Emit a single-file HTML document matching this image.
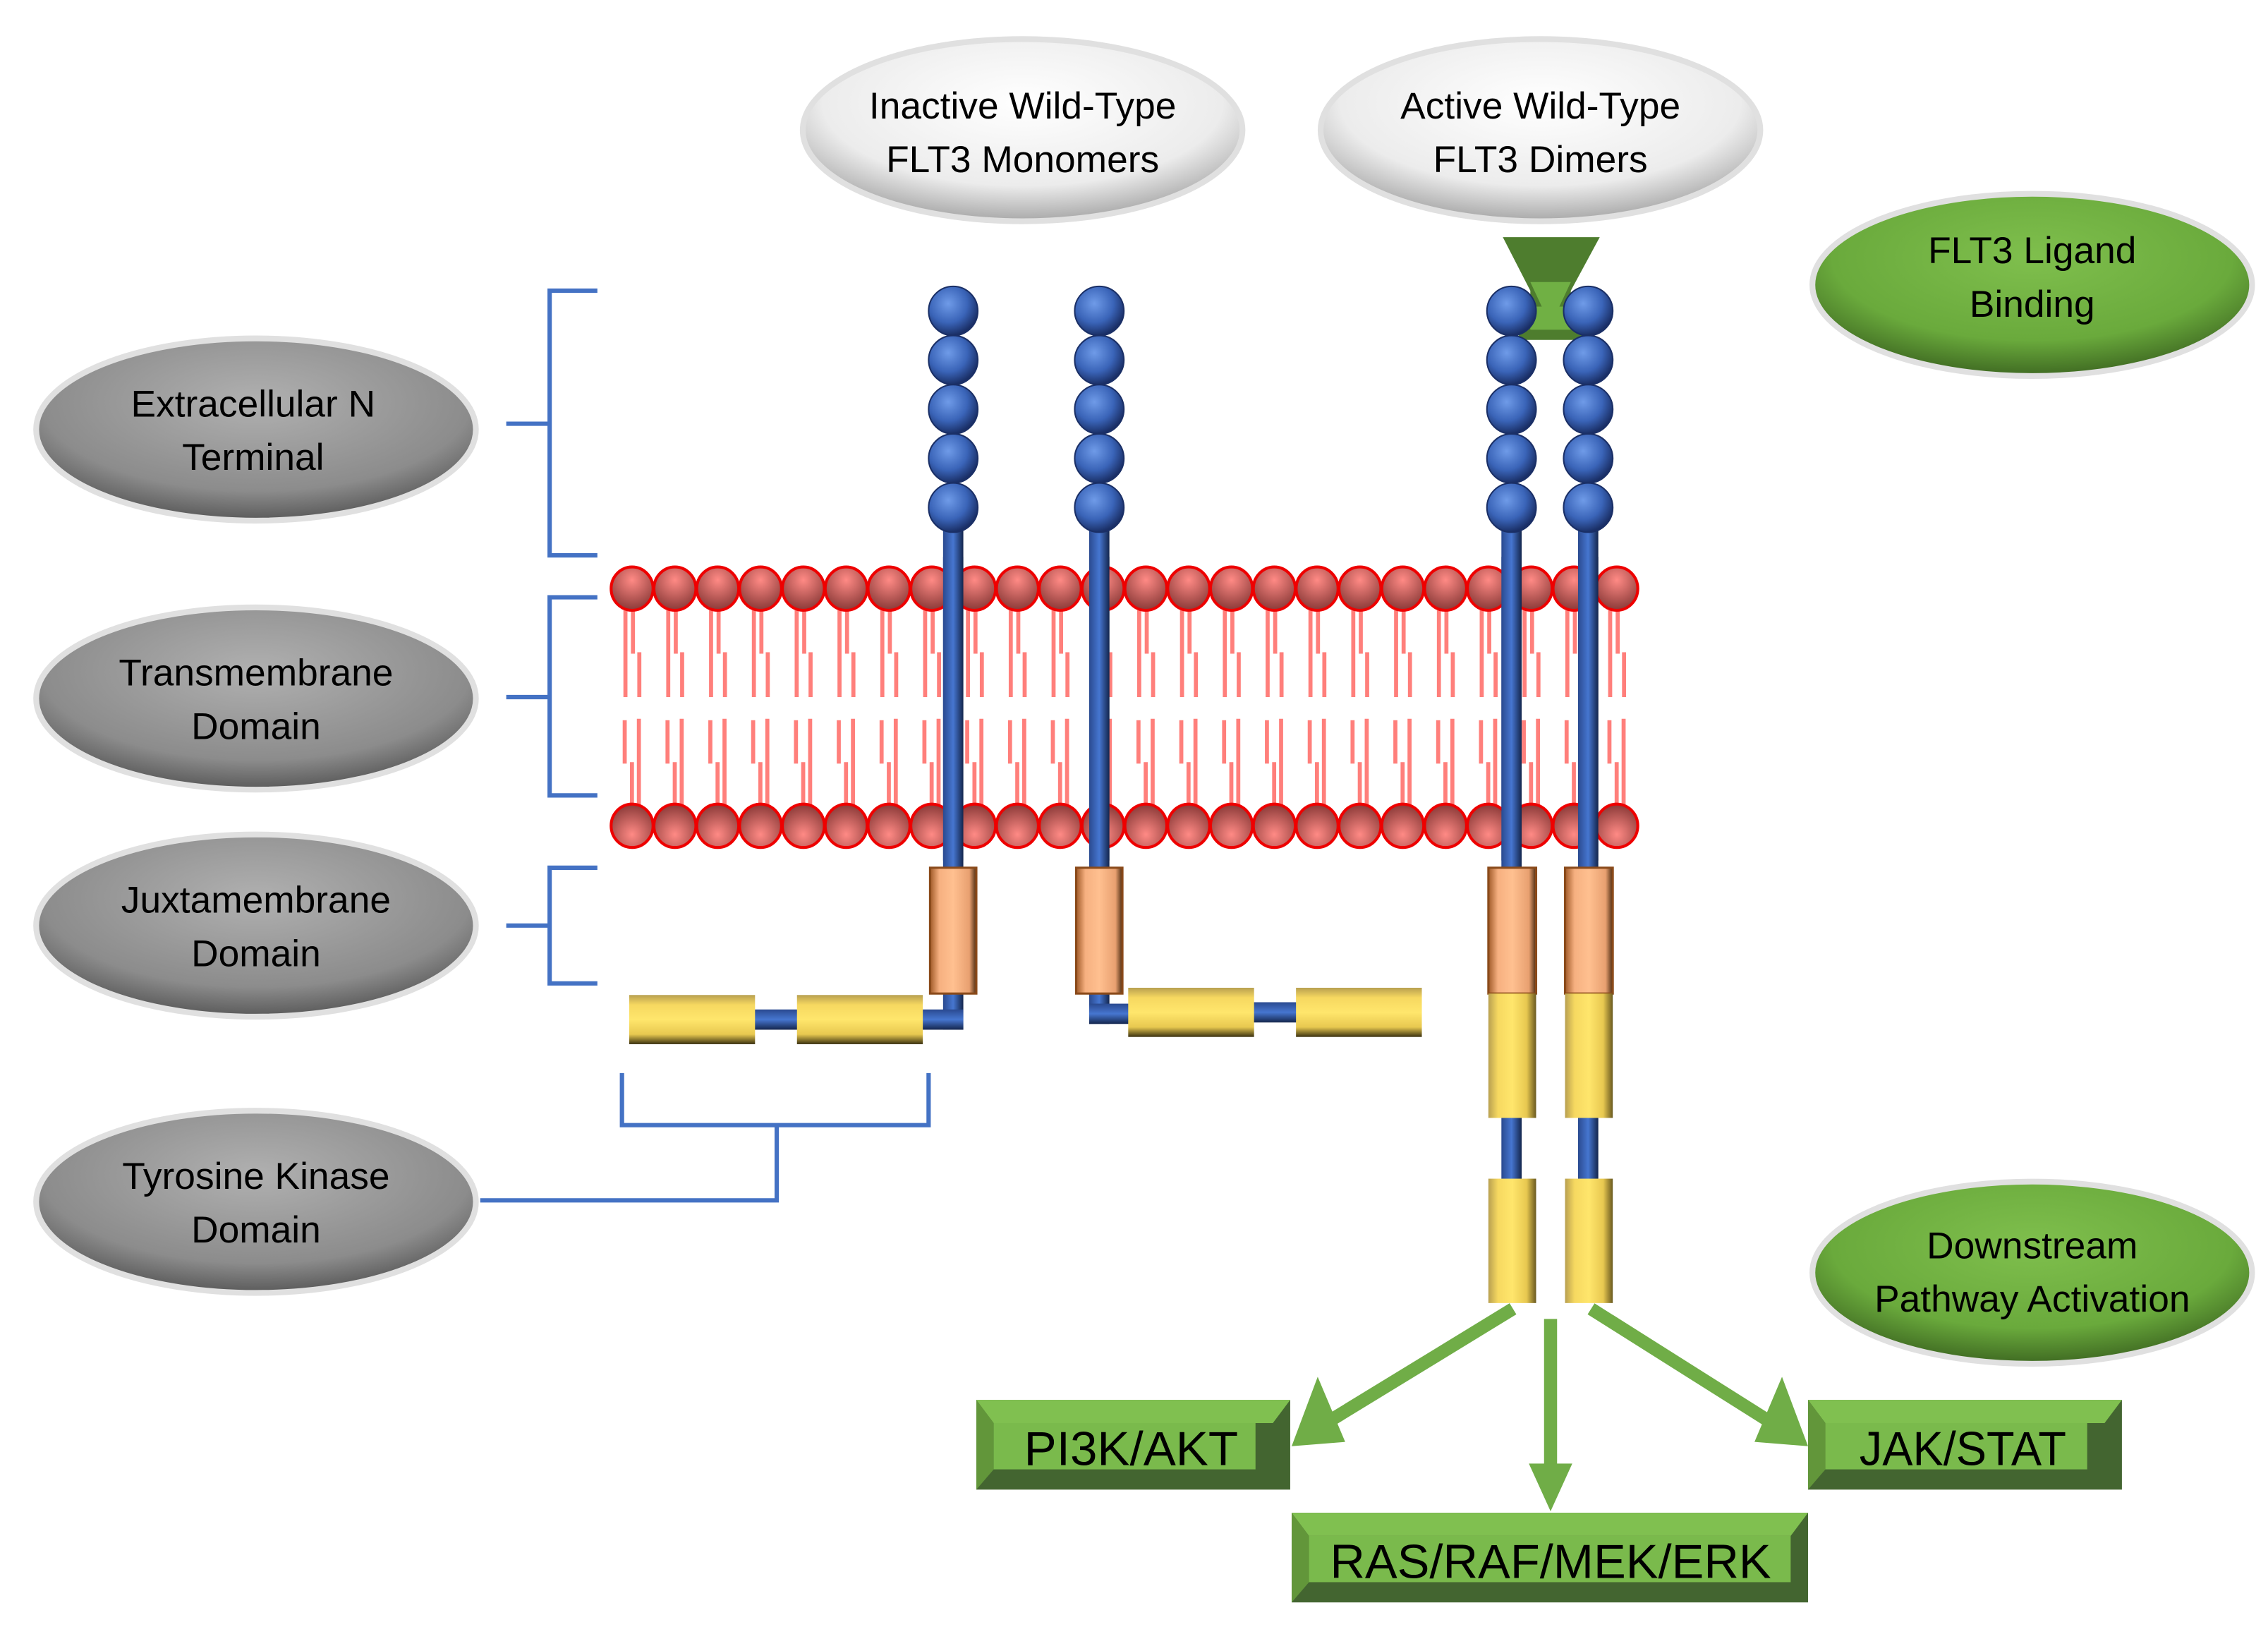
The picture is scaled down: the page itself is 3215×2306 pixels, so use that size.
<!DOCTYPE html>
<html><head><meta charset="utf-8"><style>
html,body{margin:0;padding:0;background:#fff}
svg{display:block}
text{font-family:"Liberation Sans","DejaVu Sans",sans-serif}
</style></head><body>
<svg width="3215" height="2306" viewBox="0 0 1568 1125" preserveAspectRatio="none" xmlns="http://www.w3.org/2000/svg">
<defs>
<radialGradient id="ball" cx="40%" cy="35%" r="65%"><stop offset="0" stop-color="#6f9be8"/><stop offset="0.6" stop-color="#3a64b8"/><stop offset="1" stop-color="#1a2f66"/></radialGradient>
<radialGradient id="head" cx="50%" cy="30%" r="70%"><stop offset="0" stop-color="#ff8a85"/><stop offset="1" stop-color="#8a3a38"/></radialGradient>
<radialGradient id="headb" cx="50%" cy="70%" r="70%"><stop offset="0" stop-color="#ff8a85"/><stop offset="1" stop-color="#8a3a38"/></radialGradient>
<radialGradient id="grey" cx="50%" cy="35%" r="65%"><stop offset="0" stop-color="#b0b0b0"/><stop offset="0.75" stop-color="#8c8c8c"/><stop offset="1" stop-color="#5a5a5a"/></radialGradient>
<radialGradient id="white" cx="50%" cy="35%" r="65%"><stop offset="0" stop-color="#ffffff"/><stop offset="0.7" stop-color="#ececec"/><stop offset="1" stop-color="#a8a8a8"/></radialGradient>
<radialGradient id="green" cx="50%" cy="35%" r="65%"><stop offset="0" stop-color="#7fbf4d"/><stop offset="0.7" stop-color="#6aaa3c"/><stop offset="1" stop-color="#3f6a22"/></radialGradient>
<linearGradient id="stem" x1="0" x2="1"><stop offset="0" stop-color="#2a4a90"/><stop offset="0.5" stop-color="#4676d0"/><stop offset="1" stop-color="#14264d"/></linearGradient>
<linearGradient id="stemh" x1="0" y1="0" x2="0" y2="1"><stop offset="0" stop-color="#2a4a90"/><stop offset="0.5" stop-color="#4676d0"/><stop offset="1" stop-color="#14264d"/></linearGradient>
<linearGradient id="yel" x1="0" y1="0" x2="0" y2="1"><stop offset="0" stop-color="#b8a050"/><stop offset="0.2" stop-color="#f6d860"/><stop offset="0.5" stop-color="#ffe66c"/><stop offset="0.8" stop-color="#e8c850"/><stop offset="1" stop-color="#3a3010"/></linearGradient>
<linearGradient id="yelv" x1="0" x2="1"><stop offset="0" stop-color="#b8a050"/><stop offset="0.2" stop-color="#f6d860"/><stop offset="0.5" stop-color="#ffe66c"/><stop offset="0.8" stop-color="#e8c850"/><stop offset="1" stop-color="#6a5a20"/></linearGradient>
<linearGradient id="ora" x1="0" x2="1"><stop offset="0" stop-color="#a05a28"/><stop offset="0.2" stop-color="#f6b080"/><stop offset="0.5" stop-color="#ffc090"/><stop offset="0.85" stop-color="#e8a070"/><stop offset="1" stop-color="#4a2a10"/></linearGradient>
</defs>

<g stroke="#e0e0e0" stroke-width="4">
<ellipse cx="177" cy="297" rx="152" ry="63" fill="url(#grey)"/>
<ellipse cx="177" cy="483" rx="152" ry="63" fill="url(#grey)"/>
<ellipse cx="177" cy="640" rx="152" ry="63" fill="url(#grey)"/>
<ellipse cx="177" cy="831" rx="152" ry="63" fill="url(#grey)"/>
<ellipse cx="707" cy="90" rx="152" ry="63" fill="url(#white)"/>
<ellipse cx="1065" cy="90" rx="152" ry="63" fill="url(#white)"/>
<ellipse cx="1405" cy="197" rx="152" ry="63" fill="url(#green)"/>
<ellipse cx="1405" cy="880" rx="152" ry="63" fill="url(#green)"/>
</g>
<g font-size="26" text-anchor="middle" fill="#000">
<text x="175" y="288">Extracellular N</text><text x="175" y="325">Terminal</text>
<text x="177" y="474">Transmembrane</text><text x="177" y="511">Domain</text>
<text x="177" y="631">Juxtamembrane</text><text x="177" y="668">Domain</text>
<text x="177" y="822">Tyrosine Kinase</text><text x="177" y="859">Domain</text>
<text x="707" y="82">Inactive Wild-Type</text><text x="707" y="119">FLT3 Monomers</text>
<text x="1065" y="82">Active Wild-Type</text><text x="1065" y="119">FLT3 Dimers</text>
<text x="1405" y="182">FLT3 Ligand</text><text x="1405" y="219">Binding</text>
<text x="1405" y="870">Downstream</text><text x="1405" y="907">Pathway Activation</text>
</g>

<g stroke="#4472c4" stroke-width="3" fill="none">
<path d="M413 201H380V384H413M350 293H380"/>
<path d="M413 413H380V550H413M350 482H380"/>
<path d="M413 600H380V680H413M350 640H380"/>
<path d="M430 742V778H642V742M537 778V830H332"/>
</g>

<g id="tails"></g>

<g fill="url(#stem)">
<rect x="652" y="351" width="14" height="250"/>
<rect x="753" y="351" width="14" height="250"/>
<rect x="1038" y="351" width="14" height="250"/>
<rect x="1091" y="351" width="14" height="250"/>
</g>

<polygon points="1039,164 1106,164 1086,201 1086,220 1096,235 1048,235 1058,220 1058,201" fill="#4e7d2e"/>
<polygon points="1058,195 1086,195 1072,225" fill="#70b044"/>
<rect x="1058" y="212" width="28" height="16" fill="#70b044"/>

<g fill="url(#ball)" stroke="#1a2f66" stroke-width="1">
<circle cx="659" cy="215" r="17"/><circle cx="659" cy="249" r="17"/><circle cx="659" cy="283" r="17"/><circle cx="659" cy="317" r="17"/><circle cx="659" cy="351" r="17"/>
<circle cx="760" cy="215" r="17"/><circle cx="760" cy="249" r="17"/><circle cx="760" cy="283" r="17"/><circle cx="760" cy="317" r="17"/><circle cx="760" cy="351" r="17"/>
<circle cx="1045" cy="215" r="17"/><circle cx="1045" cy="249" r="17"/><circle cx="1045" cy="283" r="17"/><circle cx="1045" cy="317" r="17"/><circle cx="1045" cy="351" r="17"/>
<circle cx="1098" cy="215" r="17"/><circle cx="1098" cy="249" r="17"/><circle cx="1098" cy="283" r="17"/><circle cx="1098" cy="317" r="17"/><circle cx="1098" cy="351" r="17"/>
</g>

<g fill="url(#stem)">
<rect x="652" y="686" width="14" height="26"/>
<rect x="753" y="686" width="14" height="22"/>
<rect x="1038" y="772" width="14" height="45"/>
<rect x="1091" y="772" width="14" height="45"/>
</g>
<g fill="url(#stemh)">
<rect x="636" y="698" width="30" height="14"/>
<rect x="520" y="698" width="33" height="14"/>
<rect x="753" y="694" width="30" height="14"/>
<rect x="865" y="693" width="33" height="14"/>
</g>
<g fill="url(#ora)" stroke="#8a4a1a" stroke-width="1.5">
<rect x="643" y="600" width="32" height="87"/>
<rect x="744" y="600" width="32" height="87"/>
<rect x="1029" y="600" width="33" height="87"/>
<rect x="1082" y="600" width="33" height="87"/>
</g>
<g fill="url(#yel)">
<rect x="435" y="688" width="87" height="34"/>
<rect x="551" y="688" width="87" height="34"/>
<rect x="780" y="683" width="87" height="34"/>
<rect x="896" y="683" width="87" height="34"/>
</g>
<g fill="url(#yelv)">
<rect x="1029" y="687" width="33" height="86"/>
<rect x="1082" y="687" width="33" height="86"/>
<rect x="1029" y="815" width="33" height="86"/>
<rect x="1082" y="815" width="33" height="86"/>
</g>

<g stroke="#70ad47" stroke-width="9" fill="none">
<line x1="1046" y1="905" x2="920" y2="982"/>
<line x1="1072" y1="912" x2="1072" y2="1015"/>
<line x1="1100" y1="905" x2="1222" y2="982"/>
</g>
<g fill="#70ad47">
<polygon points="893,1000 911,952 930,997"/>
<polygon points="1057,1012 1087,1012 1072,1045"/>
<polygon points="1250,1000 1232,952 1213,997"/>
</g>

<g>
<rect x="675" y="968" width="217" height="62" fill="#436530"/>
<polygon points="675,968 892,968 880,984 687,984" fill="#80c050"/>
<polygon points="675,968 687,984 687,1016 675,1030" fill="#62963a"/>
<rect x="687" y="984" width="181" height="32" fill="#7aba4c"/>
<text x="782" y="1013" font-size="33" text-anchor="middle" textLength="148" lengthAdjust="spacingAndGlyphs">PI3K/AKT</text>

<rect x="893" y="1046" width="357" height="62" fill="#436530"/>
<polygon points="893,1046 1250,1046 1238,1062 905,1062" fill="#80c050"/>
<polygon points="893,1046 905,1062 905,1094 893,1108" fill="#62963a"/>
<rect x="905" y="1062" width="333" height="32" fill="#7aba4c"/>
<text x="1072" y="1091" font-size="33" text-anchor="middle" textLength="305" lengthAdjust="spacingAndGlyphs">RAS/RAF/MEK/ERK</text>

<rect x="1250" y="968" width="217" height="62" fill="#436530"/>
<polygon points="1250,968 1467,968 1455,984 1262,984" fill="#80c050"/>
<polygon points="1250,968 1262,984 1262,1016 1250,1030" fill="#62963a"/>
<rect x="1262" y="984" width="181" height="32" fill="#7aba4c"/>
<text x="1357" y="1013" font-size="33" text-anchor="middle" textLength="143" lengthAdjust="spacingAndGlyphs">JAK/STAT</text>
</g>

<g id="heads"></g>
<script>
(function(){
var ns="http://www.w3.org/2000/svg";
var t=document.getElementById("tails"),h=document.getElementById("heads");
function r(p,x,y,w,hh,f){var e=document.createElementNS(ns,"rect");e.setAttribute("x",x);e.setAttribute("y",y);e.setAttribute("width",w);e.setAttribute("height",hh);e.setAttribute("fill",f);p.appendChild(e);}
function el(p,cx,cy,g){var e=document.createElementNS(ns,"ellipse");e.setAttribute("cx",cx);e.setAttribute("cy",cy);e.setAttribute("rx",14.5);e.setAttribute("ry",15);e.setAttribute("fill",g);e.setAttribute("stroke","#e00");e.setAttribute("stroke-width","2");p.appendChild(e);}
var c="#ff7f7b";
for(var i=0;i<24;i++){
 var x=437+i*29.6;
 r(t,x-6,422,2.8,60,c);r(t,x-0.8,422,2.8,30,c);r(t,x+3.6,451,2.8,31,c);
 r(t,x-6.5,498,2.8,30,c);r(t,x-1.5,527,2.8,30,c);r(t,x+3.3,497,2.8,60,c);
}
var stems=[652,753,1038,1091];
for(var i=0;i<24;i++){
 var x=437+i*29.6;
 el(h,x,407,"url(#head)");el(h,x,571,"url(#headb)");
}
for(var k=0;k<4;k++){var e=document.createElementNS(ns,"rect");e.setAttribute("x",stems[k]);e.setAttribute("y",385);e.setAttribute("width",14);e.setAttribute("height",210);e.setAttribute("fill","url(#stem)");h.appendChild(e);}
})();
</script>
</svg>
</body></html>
